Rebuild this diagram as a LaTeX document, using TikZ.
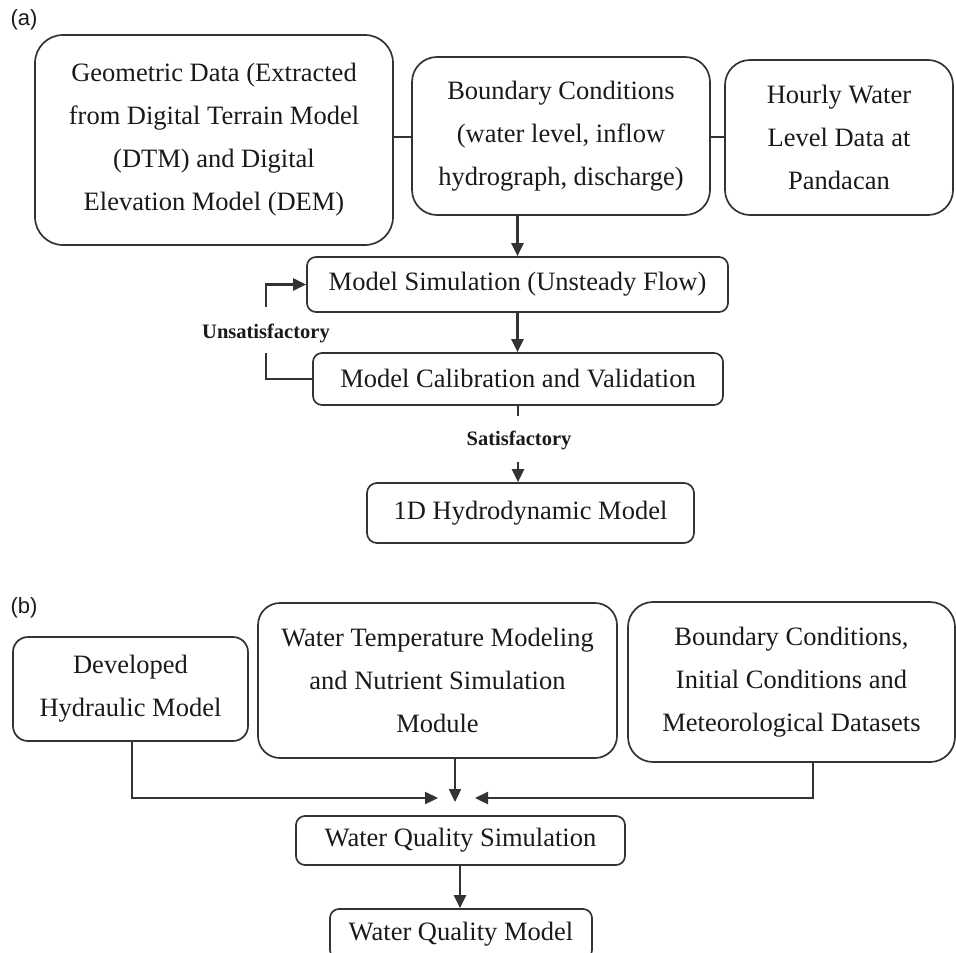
\documentclass[tikz,border=0pt]{standalone}
\usepackage{fontspec}
\setmainfont{Liberation Serif}
\newfontfamily\labfont{Liberation Sans}
\usetikzlibrary{arrows.meta,calc}
\definecolor{ln}{HTML}{333333}
\definecolor{tx}{HTML}{1A1A1A}
\tikzset{
  box/.style={draw=ln, line width=1.7pt, inner sep=0pt, align=center, text=tx,
    font=\fontsize{26.5}{43}\selectfont},
  conn/.style={draw=ln, line width=2.3pt},
  arr/.style={conn, -{Triangle[length=13pt,width=12pt]}},
  lbl/.style={text=tx, font=\bfseries\fontsize{20.5}{24}\selectfont},
  panel/.style={text=tx, font=\labfont\fontsize{22}{24}\selectfont, anchor=west}
}
\begin{document}
\begin{tikzpicture}[x=1pt,y=-1pt]
\clip (0,0) rectangle (956,953);
\fill[white] (0,0) rectangle (956,953);

\node[panel] (pa) at (7,20) {(a)};
\node[panel] (pb) at (7,608) {(b)};

% panel (a)
\node[box, rounded corners=28pt, minimum width=358pt, minimum height=210pt] (geo) at (214,140)
  {Geometric Data (Extracted\\from Digital Terrain Model\\(DTM) and Digital\\Elevation Model (DEM)};
\node[box, rounded corners=25pt, minimum width=298pt, minimum height=158pt] (bc) at (561,136)
  {Boundary Conditions\\(water level, inflow\\hydrograph, discharge)};
\node[box, rounded corners=25pt, minimum width=228pt, minimum height=155pt] (hw) at (839,137.5)
  {Hourly Water\\Level Data at\\Pandacan};
\node[box, rounded corners=9pt, minimum width=421pt, minimum height=55pt] (sim) at (517.5,284.5)
  {Model Simulation (Unsteady Flow)};
\node[box, rounded corners=9pt, minimum width=410pt, minimum height=52pt] (cal) at (518,379)
  {Model Calibration and Validation};
\node[box, rounded corners=10pt, minimum width=327pt, minimum height=60pt] (hd) at (530.5,513)
  {1D Hydrodynamic Model};

\draw[conn] (geo.east |- 0,137) -- (bc.west |- 0,137);
\draw[conn] (bc.east |- 0,137) -- (hw.west |- 0,137);
\draw[arr] (sim.north |- bc.south) -- (sim.north);
\draw[arr] (sim.south) -- (sim.south |- cal.north);

\coordinate (u1) at (266,353);
\coordinate (u2) at (266,307);
\draw[conn] (cal.west) -| (u1);
\draw[arr] (u2) |- (sim.west);
\node[lbl] (uns) at (266,333) {Unsatisfactory};

\coordinate (s1) at ($(cal.south)+(0,10)$);
\coordinate (s2) at (518,462);
\draw[conn] (cal.south) -- (s1);
\node[lbl] (sat) at (519,440) {Satisfactory};
\draw[arr] (s2) -- (s2 |- hd.north);

% panel (b)
\node[box, rounded corners=15pt, minimum width=235pt, minimum height=104pt] (dev) at (130.5,689)
  {Developed\\Hydraulic Model};
\node[box, rounded corners=22pt, minimum width=359pt, minimum height=155pt] (wt) at (437.5,680.5)
  {Water Temperature Modeling\\and Nutrient Simulation\\Module};
\node[box, rounded corners=25pt, minimum width=327pt, minimum height=160pt] (bcb) at (791.5,682)
  {Boundary Conditions,\\Initial Conditions and\\Meteorological Datasets};
\node[box, rounded corners=9pt, minimum width=329pt, minimum height=49pt] (wqs) at (460.5,840.5)
  {Water Quality Simulation};
\node[box, rounded corners=9pt, minimum width=262pt, minimum height=50pt] (wqm) at (461,934)
  {Water Quality Model};

\coordinate (jl) at (438,798);
\coordinate (jm) at (455,802);
\coordinate (jr) at (475,798);
\coordinate (q1) at (460,865);
\draw[arr] (dev.south -| 132,0) |- (jl);
\draw[arr] (wt.south -| 455,0) -- (jm);
\draw[arr] (bcb.south -| 813,0) |- (jr);
\draw[arr] (q1) -- (q1 |- wqm.north);
\end{tikzpicture}
\end{document}
